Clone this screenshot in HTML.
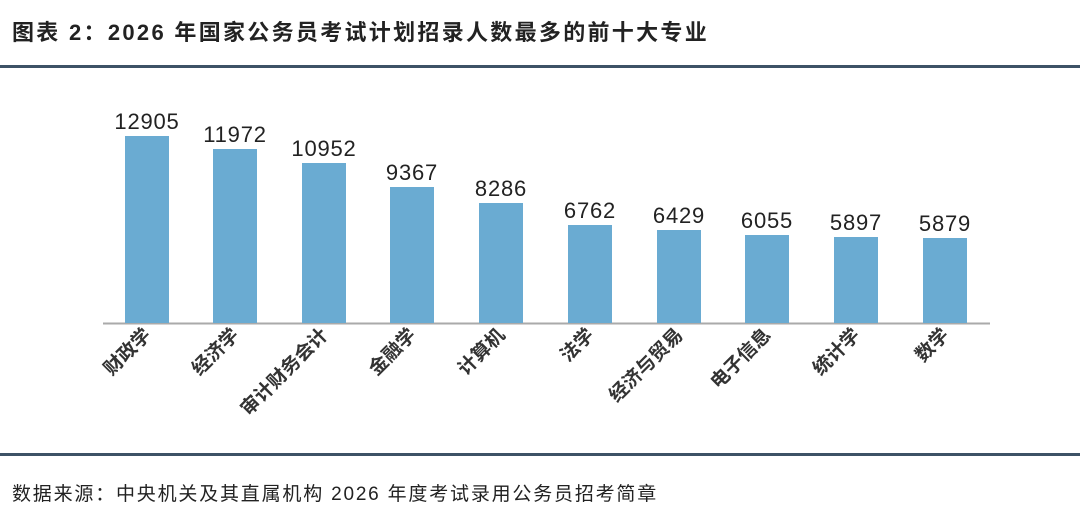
<!DOCTYPE html>
<html><head><meta charset="utf-8"><style>
body{margin:0;width:1080px;height:523px;background:#fff;overflow:hidden}
svg{display:block}
text{font-family:"Liberation Sans","Noto Sans CJK SC",sans-serif}
</style></head><body>
<svg width="1080" height="523" viewBox="0 0 1080 523">
<text x="12" y="40" font-size="22" font-weight="bold" fill="#222" letter-spacing="2.3">图表 2：2026 年国家公务员考试计划招录人数最多的前十大专业</text>
<rect x="0" y="65" width="1080" height="3" fill="#3d5266"/>
<rect x="0" y="453" width="1080" height="3" fill="#3d5266"/>
<line x1="103" y1="323.5" x2="990" y2="323.5" stroke="#aaa" stroke-width="2"/>
<g fill="#6aabd2">
<rect x="125" y="136" width="44" height="187"/>
<rect x="213" y="149" width="44" height="174"/>
<rect x="302" y="163" width="44" height="160"/>
<rect x="390" y="187" width="44" height="136"/>
<rect x="479" y="203" width="44" height="120"/>
<rect x="568" y="225" width="44" height="98"/>
<rect x="657" y="230" width="44" height="93"/>
<rect x="745" y="235" width="44" height="88"/>
<rect x="834" y="237" width="44" height="86"/>
<rect x="923" y="238" width="44" height="85"/>
</g>
<g font-size="22" fill="#222" text-anchor="middle" letter-spacing="0.8">
<text x="147" y="129">12905</text><text x="235" y="142">11972</text><text x="324" y="156">10952</text>
<text x="412" y="180">9367</text><text x="501" y="196">8286</text><text x="590" y="218">6762</text>
<text x="679" y="223">6429</text><text x="767" y="228">6055</text><text x="856" y="230">5897</text>
<text x="945" y="231">5879</text>
</g>
<g font-size="19" font-weight="bold" fill="#333" text-anchor="end">
<text transform="translate(152,336) rotate(-45)">财政学</text>
<text transform="translate(240,336) rotate(-45)">经济学</text>
<text transform="translate(329,336) rotate(-45)">审计财务会计</text>
<text transform="translate(417,336) rotate(-45)">金融学</text>
<text transform="translate(506,336) rotate(-45)">计算机</text>
<text transform="translate(595,336) rotate(-45)">法学</text>
<text transform="translate(684,336) rotate(-45)">经济与贸易</text>
<text transform="translate(772,336) rotate(-45)">电子信息</text>
<text transform="translate(861,336) rotate(-45)">统计学</text>
<text transform="translate(950,336) rotate(-45)">数学</text>
</g>
<text x="12" y="500" font-size="19" fill="#222" letter-spacing="1.8">数据来源：中央机关及其直属机构 2026 年度考试录用公务员招考简章</text>
</svg>
</body></html>
